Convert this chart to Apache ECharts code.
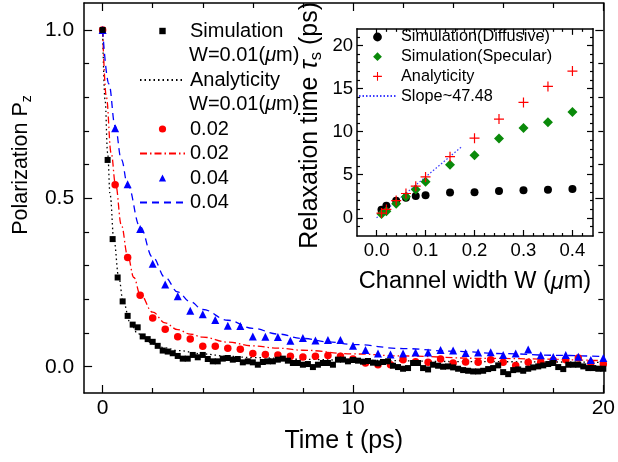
<!DOCTYPE html>
<html>
<head>
<meta charset="utf-8">
<script src="https://cdn.jsdelivr.net/npm/echarts@6/dist/echarts.min.js"></script>
<style>
  html, body { margin: 0; padding: 0; background: #fff; }
  #chart { width: 618px; height: 462px; }
</style>
</head>
<body>
<div id="chart"></div>
<script>
// ---- main panel: spin polarization P_z(t) ----

// simulation, W = 0.01 um (sampled every 0.2 ps)
const simTime001 = [0, 0.2, 0.4, 0.6, 0.8, 1, 1.2, 1.4, 1.6, 1.8,
  2, 2.2, 2.4, 2.6, 2.8, 3, 3.2, 3.4, 3.6, 3.8,
  4, 4.2, 4.4, 4.6, 4.8, 5, 5.2, 5.4, 5.6, 5.8,
  6, 6.2, 6.4, 6.6, 6.8, 7, 7.2, 7.4, 7.6, 7.8,
  8, 8.2, 8.4, 8.6, 8.8, 9, 9.2, 9.4, 9.6, 9.8,
  10, 10.2, 10.4, 10.6, 10.8, 11, 11.2, 11.4, 11.6, 11.8,
  12, 12.2, 12.4, 12.6, 12.8, 13, 13.2, 13.4, 13.6, 13.8,
  14, 14.2, 14.4, 14.6, 14.8, 15, 15.2, 15.4, 15.6, 15.8,
  16, 16.2, 16.4, 16.6, 16.8, 17, 17.2, 17.4, 17.6, 17.8,
  18, 18.2, 18.4, 18.6, 18.8, 19, 19.2, 19.4, 19.6, 19.8, 20];
const sim001P = [1.000, 0.614, 0.379, 0.265, 0.194, 0.151, 0.125, 0.117, 0.090, 0.082,
  0.074, 0.062, 0.048, 0.045, 0.040, 0.032, 0.024, 0.024, 0.035, 0.028,
  0.035, 0.023, 0.016, 0.016, 0.024, 0.026, 0.021, 0.023, 0.013, 0.016,
  0.013, 0.006, 0.014, 0.016, 0.016, 0.021, 0.024, 0.018, 0.011, 0.011,
  0.006, 0.008, -0.001, 0.006, 0.011, 0.011, 0.006, 0.021, 0.021, 0.016,
  0.020, 0.018, 0.015, 0.017, 0.012, 0.010, 0.014, 0.016, 0.003, -0.001,
  -0.006, -0.004, 0.011, 0.011, -0.004, -0.008, 0.006, 0.003, 0.000, 0.001,
  -0.002, -0.006, -0.010, -0.012, -0.014, -0.014, -0.012, -0.007, -0.004, 0.004,
  -0.016, -0.022, -0.010, -0.008, -0.012, -0.006, -0.002, 0.001, 0.004, 0.008,
  0.011, -0.001, -0.007, 0.006, 0.006, 0.006, 0.001, -0.004, -0.004, -0.006,
  -0.006];

// simulations, W = 0.02 and 0.04 um (sampled every 0.5 ps)
const simTimeWide = [0, 0.5, 1, 1.5, 2, 2.5, 3, 3.5, 4, 4.5, 5, 5.5, 6, 6.5, 7, 7.5,
  8, 8.5, 9, 9.5, 10, 10.5, 11, 11.5, 12, 12.5, 13, 13.5, 14, 14.5, 15, 15.5,
  16, 16.5, 17, 17.5, 18, 18.5, 19, 19.5, 20];
const sim002P = [1.0, 0.54, 0.324, 0.212, 0.145, 0.111, 0.089, 0.082, 0.061, 0.061,
  0.055, 0.052, 0.039, 0.036, 0.035, 0.031, 0.029, 0.031, 0.033, 0.031,
  0.023, 0.011, 0.006, 0.006, 0.021, 0.015, 0.013, 0.023, 0.011, 0.014,
  0.013, 0.021, 0.013, 0.004, 0.013, 0.013, 0.019, 0.021, 0.026, 0.011, 0.008];
const sim004P = [1.0, 0.708, 0.542, 0.409, 0.306, 0.244, 0.209, 0.166, 0.156, 0.139,
  0.122, 0.121, 0.090, 0.089, 0.088, 0.077, 0.085, 0.078, 0.079, 0.079,
  0.062, 0.050, 0.039, 0.036, 0.039, 0.042, 0.042, 0.050, 0.048, 0.041,
  0.042, 0.043, 0.035, 0.039, 0.051, 0.034, 0.029, 0.035, 0.030, 0.020, 0.026];

// analytical curves
const ana001T = [0, 0.1, 0.2, 0.3, 0.45, 0.65, 0.82, 1.1, 1.4, 1.7, 2, 2.5, 3, 4, 5, 6, 8, 10, 15, 20];
const ana001P = [1.0, 0.79, 0.635, 0.51, 0.377, 0.263, 0.194, 0.132, 0.099, 0.08, 0.068, 0.056, 0.048, 0.038, 0.031, 0.027, 0.022, 0.019, 0.015, 0.013];
const ana002T = [0, 0.15, 0.34, 0.52, 0.75, 1, 1.25, 1.5, 2, 2.5, 3, 3.5, 4, 5, 6, 7, 8, 10, 12, 15, 20];
const ana002P = [1.0, 0.80, 0.635, 0.54, 0.42, 0.33, 0.265, 0.215, 0.162, 0.13, 0.11, 0.097, 0.088, 0.073, 0.062, 0.055, 0.049, 0.038, 0.032, 0.025, 0.018];
const ana004T = [0, 0.25, 0.5, 0.75, 1, 1.5, 2, 2.5, 3, 3.5, 4, 5, 6, 7, 8, 9, 10, 12, 14, 16, 18, 20];
const ana004P = [1.0, 0.84, 0.715, 0.615, 0.54, 0.415, 0.325, 0.265, 0.222, 0.193, 0.17, 0.138, 0.114, 0.097, 0.084, 0.074, 0.066, 0.054, 0.046, 0.039, 0.034, 0.030];

// tick positions
const mainXMajor = [0, 10, 20];
const mainXMinor = [2, 4, 6, 8, 12, 14, 16, 18];
const mainYMajor = [0, 0.5, 1.0];
const mainYMinor = [0.1, 0.2, 0.3, 0.4, 0.6, 0.7, 0.8, 0.9];

// ---- inset: relaxation time vs channel width ----
const widthW = [0.01, 0.02, 0.04, 0.06, 0.08, 0.1, 0.15, 0.2, 0.25, 0.3, 0.35, 0.4];
const tauDiffusive = [0.95, 1.41, 1.97, 2.34, 2.52, 2.63, 2.93, 2.97, 3.12, 3.19, 3.27, 3.34];
const tauSpecular = [0.45, 0.75, 1.63, 2.45, 3.3, 4.2, 6.16, 7.27, 9.2, 10.43, 11.09, 12.28];
const tauAnalytic = [0.55, 0.97, 2.0, 2.82, 3.67, 4.75, 7.09, 9.24, 11.46, 13.39, 15.25, 17.03];
const slope = 47.48;
const slopeRangeW = [0, 0.175];

const insetXMajor = [0, 0.1, 0.2, 0.3, 0.4];
const insetXMinor = [0.02, 0.04, 0.06, 0.08, 0.12, 0.14, 0.16, 0.18, 0.22, 0.24, 0.26, 0.28, 0.32, 0.34, 0.36, 0.38, 0.42];
const insetYMajor = [0, 5, 10, 15, 20];
const insetYMinor = [-1, 1, 2, 3, 4, 6, 7, 8, 9, 11, 12, 13, 14, 16, 17, 18, 19, 21];

const FONT = '"Liberation Sans", Arial, Helvetica, sans-serif';
const zip = (xs, ys) => xs.map((x, i) => [x, ys[i]]);

const legendText = {
  sim001: 'Simulation', ana001: 'Analyticity',
  sim002: '0.02', ana002: '0.02', sim004: '0.04', ana004: '0.04',
  diff: 'Simulation(Diffusive)', spec: 'Simulation(Specular)',
  anaW: 'Analyticity', fit: 'Slope~47.48'
};

function axis(grid, pos, min, max, ticks, len, frame, extra) {
  const a = {
    type: 'value', gridIndex: grid, position: pos, min: min, max: max,
    axisLine: { show: frame, onZero: false, lineStyle: { color: '#000', width: 1.5 } },
    axisTick: { show: true, inside: true, length: len, customValues: ticks,
      lineStyle: { color: '#000', width: 1.2 } },
    axisLabel: { show: false },
    splitLine: { show: false }
  };
  return Object.assign(a, extra || {});
}

const mainX = { min: -0.74, max: 20 };
const mainY = { min: -0.078, max: 1.08 };
const insX = { min: -0.04, max: 0.442 };
const insY = { min: -2.11, max: 21.93 };

const xAxes = [
  axis(0, 'bottom', mainX.min, mainX.max, mainXMajor, 8, true, {
    axisLabel: { show: true, customValues: mainXMajor, margin: 5, fontSize: 21, color: '#000', fontFamily: FONT },
    name: 'Time t (ps)', nameLocation: 'middle', nameGap: 36,
    nameTextStyle: { fontSize: 25, color: '#000', fontFamily: FONT }
  }),
  axis(0, 'bottom', mainX.min, mainX.max, mainXMinor, 5, false),
  axis(0, 'top', mainX.min, mainX.max, mainXMajor, 8, true),
  axis(0, 'top', mainX.min, mainX.max, mainXMinor, 5, false),
  axis(1, 'bottom', insX.min, insX.max, insetXMajor, 6, true, {
    axisLabel: { show: true, customValues: insetXMajor, margin: 5, fontSize: 18.5, color: '#000', fontFamily: FONT,
      formatter: v => v.toFixed(1) },
    name: 'Channel width W ({i|μ}m)', nameLocation: 'middle', nameGap: 34,
    nameTextStyle: { fontSize: 23.5, color: '#000', fontFamily: FONT,
      rich: { i: { fontSize: 23.5, fontStyle: 'italic', color: '#000', fontFamily: FONT } } }
  }),
  axis(1, 'bottom', insX.min, insX.max, insetXMinor, 3, false),
  axis(1, 'top', insX.min, insX.max, insetXMajor, 6, true),
  axis(1, 'top', insX.min, insX.max, insetXMinor, 3, false)
];

const yAxes = [
  axis(0, 'left', mainY.min, mainY.max, mainYMajor, 8, true, {
    axisLabel: { show: true, customValues: mainYMajor, margin: 10, fontSize: 21, color: '#000', fontFamily: FONT,
      formatter: v => v.toFixed(1) },
    name: 'Polarization P{sub|z}', nameLocation: 'middle', nameGap: 48,
    nameTextStyle: { fontSize: 21.5, color: '#000', fontFamily: FONT, lineHeight: 26, padding: [0, 0, 0, 66],
      rich: { sub: { fontSize: 14, lineHeight: 10, verticalAlign: 'bottom', color: '#000', fontFamily: FONT } } }
  }),
  axis(0, 'left', mainY.min, mainY.max, mainYMinor, 5, false),
  axis(0, 'right', mainY.min, mainY.max, mainYMajor, 8, true),
  axis(0, 'right', mainY.min, mainY.max, mainYMinor, 5, false),
  axis(1, 'left', insY.min, insY.max, insetYMajor, 6, true, {
    axisLabel: { show: true, customValues: insetYMajor, margin: 4, fontSize: 18.5, color: '#000', fontFamily: FONT },
    name: 'Relaxation time {i|τ}{sub|s} (ps)', nameLocation: 'middle', nameGap: 32,
    nameTextStyle: { fontSize: 25, color: '#000', fontFamily: FONT, lineHeight: 29, padding: [0, 0, 0, 14],
      rich: {
        i: { fontSize: 25, fontStyle: 'italic', color: '#000', fontFamily: FONT },
        sub: { fontSize: 16.5, lineHeight: 10, verticalAlign: 'bottom', color: '#000', fontFamily: FONT }
      } }
  }),
  axis(1, 'left', insY.min, insY.max, insetYMinor, 3, false),
  axis(1, 'right', insY.min, insY.max, insetYMajor, 6, true),
  axis(1, 'right', insY.min, insY.max, insetYMinor, 3, false)
];

const plusPath = 'path://M4.4,0 H5.6 V4.4 H10 V5.6 H5.6 V10 H4.4 V5.6 H0 V4.4 H4.4 Z';

// point series are drawn as line series with a hidden connecting line
const points = (name, data, symbol, size, color, extra) => Object.assign({
  name: name, type: 'line', data: data, symbol: symbol, symbolSize: size, showSymbol: true,
  showAllSymbol: true, symbolKeepAspect: true,
  lineStyle: { width: 0, opacity: 0 }, itemStyle: { color: color }, z: 4
}, extra || {});
const curve = (name, data, color, dash, extra) => Object.assign({
  name: name, type: 'line', data: data, symbol: 'none', smooth: 0.4, smoothMonotone: 'x',
  lineStyle: { color: color, width: 1.3, type: dash }, itemStyle: { color: color }, z: 3
}, extra || {});

const series = [
  points('sim001', zip(simTime001, sim001P), 'rect', 6, '#000', { z: 5 }),
  curve('ana001', zip(ana001T, ana001P), '#000', [1.5, 3]),
  points('sim002', zip(simTimeWide, sim002P), 'circle', 7.5, '#ff0000'),
  curve('ana002', zip(ana002T, ana002P), '#ff0000', [7, 3, 1.5, 3]),
  points('sim004', zip(simTimeWide, sim004P), 'triangle', 8, '#0000ff'),
  curve('ana004', zip(ana004T, ana004P), '#0000ff', [7, 5]),

  points('diff', zip(widthW, tauDiffusive), 'circle', 8, '#000', { xAxisIndex: 4, yAxisIndex: 4 }),
  points('spec', zip(widthW, tauSpecular), 'diamond', 10, '#0a8a0a', { xAxisIndex: 4, yAxisIndex: 4, z: 5 }),
  points('anaW', zip(widthW, tauAnalytic), plusPath, 10, '#ff0000', { xAxisIndex: 4, yAxisIndex: 4, z: 6 }),
  {
    name: 'fit', type: 'line', xAxisIndex: 4, yAxisIndex: 4,
    data: slopeRangeW.map(w => [w, slope * w]), symbol: 'none',
    lineStyle: { color: '#3b3bff', width: 1.2, type: [1.5, 2] }, itemStyle: { color: '#3b3bff' }, z: 3
  }
];

// legend entries: symbols only for point series, lines only for curves
const markItem = n => ({ name: n, lineStyle: { opacity: 0 } });
const lineItem = n => ({ name: n, itemStyle: { opacity: 0 } });

const legendBase = {
  orient: 'vertical', selectedMode: false, padding: 0, itemWidth: 45, itemHeight: 8,
  formatter: n => legendText[n],
  textStyle: { fontSize: 20, lineHeight: 24.5, color: '#000', fontFamily: FONT }
};

const wTitle = top => ({
  text: 'W=0.01({i|μ}m)', left: 189, top: top, padding: 0,
  textStyle: { fontSize: 20, lineHeight: 24.5, fontWeight: 'normal', color: '#000', fontFamily: FONT,
    rich: { i: { fontSize: 20, fontStyle: 'italic', color: '#000', fontFamily: FONT } } }
});

const option = {
  animation: false,
  backgroundColor: '#fff',
  grid: [
    { left: 82, top: 3, width: 524, height: 390 },
    { left: 357, top: 20, width: 236, height: 216 }
  ],
  title: [wTitle(43.25), wTitle(92.25)],
  legend: [
    Object.assign({}, legendBase, {
      data: [markItem('sim001'), lineItem('ana001')], left: 139, top: 18.75, itemGap: 24.5
    }),
    Object.assign({}, legendBase, {
      data: [markItem('sim002'), lineItem('ana002'), markItem('sim004'), lineItem('ana004')],
      left: 139, top: 116.75, itemGap: 0, itemHeight: 9
    }),
    {
      orient: 'vertical', selectedMode: false, padding: 0, itemWidth: 37, itemHeight: 11, itemGap: 0,
      left: 358, top: 27.15,
      data: [markItem('diff'), markItem('spec'), markItem('anaW'), lineItem('fit')],
      formatter: n => legendText[n],
      textStyle: { fontSize: 16.3, lineHeight: 19.7, color: '#000', fontFamily: FONT }
    }
  ],
  xAxis: xAxes,
  yAxis: yAxes,
  series: series
};

const chart = echarts.init(document.getElementById('chart'), null, { renderer: 'canvas' });
chart.setOption(option);
</script>
</body>
</html>
